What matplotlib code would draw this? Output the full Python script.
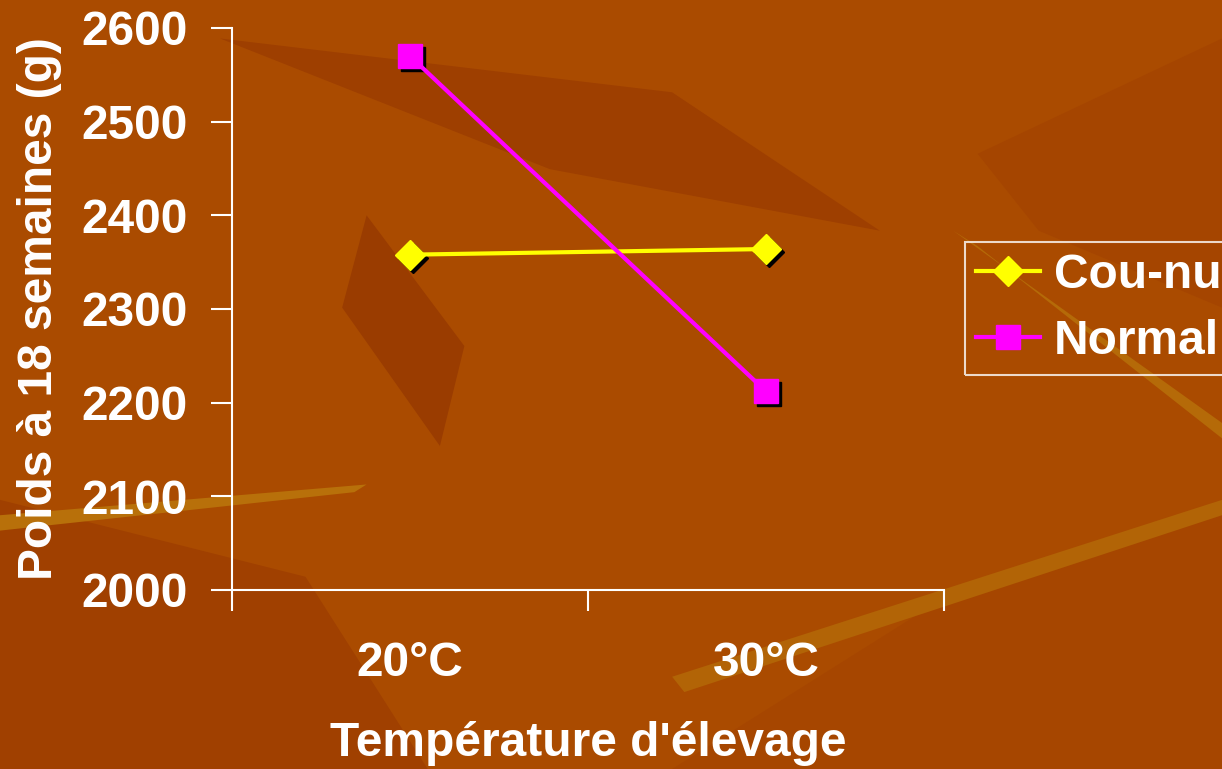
import matplotlib
matplotlib.use('Agg')
import matplotlib.pyplot as plt
import matplotlib.transforms as mtransforms
from matplotlib.patches import Polygon

# Poids a 18 semaines selon la temperature d'elevage

temperatures = ['20°C', '30°C']
cou_nu = [2358, 2364]
normal = [2570, 2212]
y_ticks = [2000, 2100, 2200, 2300, 2400, 2500, 2600]

plt.rcParams['font.family'] = ['Liberation Sans', 'DejaVu Sans']
plt.rcParams['font.weight'] = 'bold'

BG = '#AA4B00'
FS = 34.5


def draw_background(fig):
    # rough imitation of the textured slide background
    shapes = [
        ([(0.0, 0.0), (0.35, 0.0), (0.25, 0.25), (0.0, 0.35)], '#A04000'),
        ([(0.18, 0.95), (0.45, 0.78), (0.72, 0.70), (0.55, 0.88)], '#9E3F00'),
        ([(0.30, 0.72), (0.38, 0.55), (0.36, 0.42), (0.28, 0.60)], '#9A3C00'),
        ([(0.80, 0.80), (1.0, 0.95), (1.0, 0.60), (0.85, 0.70)], '#A54500'),
        ([(0.55, 0.0), (1.0, 0.0), (1.0, 0.35), (0.75, 0.20)], '#A64600'),
        ([(0.0, 0.33), (0.30, 0.37), (0.29, 0.36), (0.0, 0.31)], '#B8700A'),
        ([(0.78, 0.70), (1.0, 0.45), (1.0, 0.43), (0.80, 0.68)], '#B56A08'),
        ([(0.55, 0.12), (1.0, 0.35), (1.0, 0.33), (0.56, 0.10)], '#B26406'),
    ]
    for pts, col in shapes:
        fig.patches.append(Polygon(pts, closed=True, transform=fig.transFigure,
                                   facecolor=col, edgecolor='none', zorder=-10))


fig = plt.figure(figsize=(12.22, 7.69), dpi=100, facecolor=BG)
draw_background(fig)
ax = fig.add_axes([0.1899, 0.2328, 0.5826, 0.7308])
ax.set_facecolor('none')

x = list(range(len(temperatures)))

# shadows of the markers
shadow = mtransforms.offset_copy(ax.transData, fig=fig, x=3, y=-3, units='dots')
ax.plot(x, cou_nu, linestyle='none', marker='D', markersize=15,
        color='black', transform=shadow, zorder=2)
ax.plot(x, normal, linestyle='none', marker='s', markersize=17,
        color='black', transform=shadow, zorder=2)

ax.plot(x, cou_nu, color='#FFFF00', linewidth=3, marker='D', markersize=15,
        label='Cou-nu', zorder=3)
ax.plot(x, normal, color='#FF00FF', linewidth=3, marker='s', markersize=17,
        label='Normal', zorder=3)

ax.set_xlim(-0.5, len(temperatures) - 0.5)
ax.set_ylim(2000, 2600)
ax.set_yticks(y_ticks)
ax.set_xticks(x)
ax.set_xticklabels(temperatures)
ax.set_xticks([i - 0.5 for i in range(len(temperatures) + 1)], minor=True)

for side in ['top', 'right']:
    ax.spines[side].set_visible(False)
for side in ['left', 'bottom']:
    ax.spines[side].set_color('white')
    ax.spines[side].set_linewidth(1.5)

ax.tick_params(axis='y', colors='white', labelsize=FS, length=15, width=1.5, pad=17)
ax.tick_params(axis='x', which='major', colors='white', labelsize=FS, length=0, pad=37)
ax.tick_params(axis='x', which='minor', colors='white', length=15, width=1.5)

ax.set_xlabel("Température d'élevage", color='white', fontsize=FS,
              fontweight='bold', labelpad=25)
ax.set_ylabel('Poids à 18 semaines (g)', color='white', fontsize=FS,
              fontweight='bold', labelpad=14)

leg = ax.legend(loc='upper left', bbox_to_anchor=(965 / 1222, 1 - 242 / 769),
                bbox_transform=fig.transFigure, frameon=True, fontsize=FS,
                handlelength=1.35, handletextpad=0.28, borderpad=0.22,
                labelspacing=0.45, borderaxespad=0)
leg.get_frame().set_facecolor('none')
leg.get_frame().set_edgecolor('white')
leg.get_frame().set_linewidth(1.5)
leg.get_frame().set_boxstyle('square', pad=0)
for text in leg.get_texts():
    text.set_color('white')

fig.savefig('out.png', dpi=100, facecolor=BG)
